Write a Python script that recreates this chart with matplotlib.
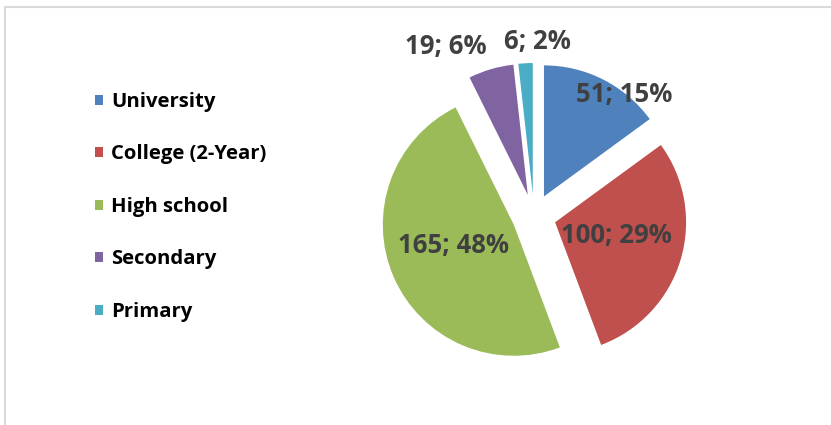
import matplotlib
matplotlib.use("Agg")
import matplotlib.pyplot as plt
from matplotlib.patches import Rectangle

categories = ["University", "College (2-Year)", "High school", "Secondary", "Primary"]
counts = [51, 100, 165, 19, 6]
percents = [15, 29, 48, 6, 2]
colors = ["#4F81BD", "#C0504D", "#9BBB59", "#8064A2", "#4BACC6"]

W, H = 831, 425
plt.rcParams["font.family"] = ["Open Sans", "DejaVu Sans"]

fig = plt.figure(figsize=(W / 100, H / 100), dpi=100)
fig.patch.set_facecolor("white")
ax = fig.add_axes([0, 0, 1, 1])


def img_y(y):
    # picture rows run downward, the axes upward
    return H - y


# explode is in data units here (pixels)
wedges, _ = ax.pie(counts, colors=colors, startangle=90, counterclock=False,
                   explode=[22] * len(counts), radius=131,
                   center=(534, img_y(216)),
                   wedgeprops=dict(linewidth=0))
ax.set_xlim(0, W)
ax.set_ylim(0, H)
ax.set_aspect("equal")
ax.axis("off")

# data labels, placed where the original chart put them
label_xy = [(624, 94), (616, 235), (454, 245), (446, 46), (537, 41)]
for (x, y), n, p in zip(label_xy, counts, percents):
    ax.text(x, img_y(y), f"{n}; {p}%", ha="center", va="center",
            fontsize=18.5, fontweight="bold", color="#404040")

leg = ax.legend(wedges, categories, loc="upper left",
                bbox_to_anchor=(95 / W, 1 - 92 / H),
                frameon=False, prop=dict(weight="bold", size=14.6),
                handlelength=0.38, handleheight=0.38, handletextpad=0.42,
                labelspacing=1.6, borderaxespad=0, borderpad=0)

# light grey chart-area border, running off the right and bottom edge
fig.patches.append(Rectangle((5, -10), W + 10, H - 6 + 10 - 1,
                             transform=None, fill=False,
                             edgecolor="#D9D9D9", linewidth=1.5))

fig.savefig("out.png", dpi=100)
